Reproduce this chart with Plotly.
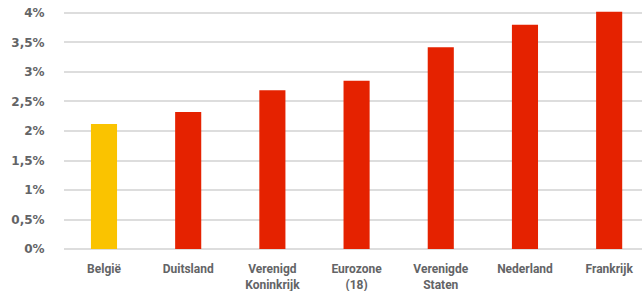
import plotly.graph_objects as go

categories = ["België", "Duitsland", "Verenigd<br>Koninkrijk", "Eurozone<br>(18)",
              "Verenigde<br>Staten", "Nederland", "Frankrijk"]
values = [2.12, 2.32, 2.69, 2.85, 3.42, 3.80, 4.02]
bar_colors = ["#FAC300", "#E52200", "#E52200", "#E52200", "#E52200", "#E52200", "#E52200"]
y_tickvals = [0, 0.5, 1, 1.5, 2, 2.5, 3, 3.5, 4]
y_ticktext = ["0%", "0,5%", "1%", "1,5%", "2%", "2,5%", "3%", "3,5%", "4%"]

fig = go.Figure(go.Bar(
    x=list(range(len(categories))),
    y=values,
    marker=dict(color=bar_colors, line=dict(width=0)),
    width=0.31,
    hoverinfo="skip",
))

fig.update_layout(
    width=642, height=291,
    margin=dict(l=64, r=0, t=7, b=36),
    paper_bgcolor="white", plot_bgcolor="white",
    font=dict(family="Roboto, sans-serif", color="#636466"),
    showlegend=False,
    xaxis=dict(
        tickmode="array",
        tickvals=list(range(len(categories))),
        ticktext=categories,
        range=[-0.475, 6.39],
        automargin=False,
        showgrid=False, zeroline=False, showline=False,
        ticks="outside", ticklen=3, tickcolor="rgba(0,0,0,0)",
        tickfont=dict(size=12, family="Roboto, sans-serif", weight="bold", color="#636466"),
    ),
    yaxis=dict(
        tickmode="array",
        tickvals=y_tickvals,
        ticktext=y_ticktext,
        range=[-0.1, 4.1],
        automargin=False,
        showgrid=True, gridcolor="#dddddd", gridwidth=2,
        zeroline=False, showline=False,
        ticks="outside", ticklen=16, tickcolor="rgba(0,0,0,0)",
        tickfont=dict(size=12, family="DejaVu Sans, sans-serif", weight="bold", color="#636466"),
    ),
)

fig.write_html("out.html", config={"displayModeBar": False},
               post_script="document.body.style.margin='0px';document.body.style.overflow='hidden';")
